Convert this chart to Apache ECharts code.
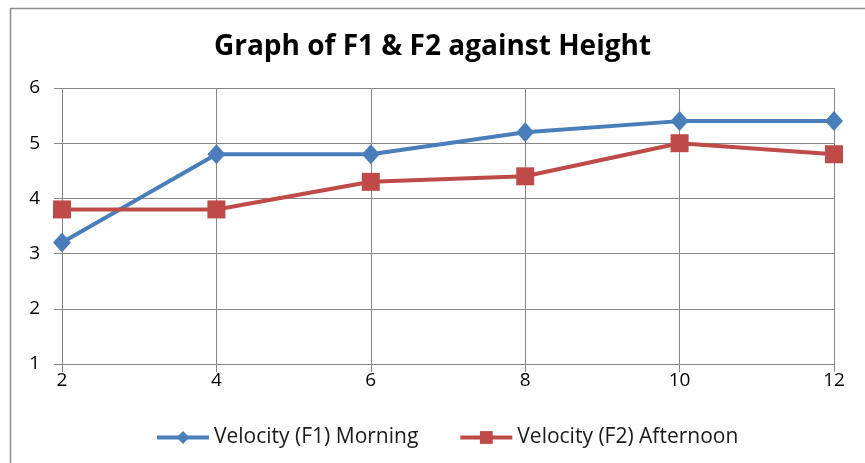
<!DOCTYPE html>
<html><head><meta charset="utf-8">
<script src="https://cdn.jsdelivr.net/npm/echarts@6/dist/echarts.min.js"></script>
<style>html,body{margin:0;padding:0;background:#fff}#c{width:865px;height:463px}</style>
</head><body><div id="c"></div>
<script>
const categories = ['2','4','6','8','10','12'];
const f1Morning = [3.2, 4.8, 4.8, 5.2, 5.4, 5.4];
const f2Afternoon = [3.8, 3.8, 4.3, 4.4, 5.0, 4.8];
const yTicks = [1, 6, 1]; // min, max, interval

const chart = echarts.init(document.getElementById('c'));
const font = '"Open Sans", "Liberation Sans", sans-serif';
chart.setOption({
  animation: false,
  backgroundColor: '#fff',
  graphic: [{type:'rect', shape:{x:10.5, y:8.5, width:860, height:470}, style:{fill:'none', stroke:'#8c8c8c', lineWidth:1.5}, silent:true}],
  title: {text:'Graph of F1 & F2 against Height', left:'center', top:28,
    textStyle:{fontFamily:font, fontSize:28, fontWeight:'bold', color:'#000'}},
  legend: {top:422, left:150, itemWidth:52, itemHeight:16, itemGap:40,
    lineStyle:{width:4},
    textStyle:{fontFamily:font, fontSize:21, color:'#1a1a1a'},
    data:['Velocity (F1) Morning','Velocity (F2) Afternoon']},
  grid: {left:62, right:31, top:88, bottom:99},
  xAxis: {type:'category', data:categories, boundaryGap:false,
    axisLine:{lineStyle:{color:'#868686'}},
    axisTick:{show:true, alignWithLabel:true, length:8, lineStyle:{color:'#868686'}},
    splitLine:{show:true, lineStyle:{color:'#868686'}},
    axisLabel:{fontFamily:font, fontSize:19, color:'#000', margin:7}},
  yAxis: {type:'value', min:yTicks[0], max:yTicks[1], interval:yTicks[2],
    axisLine:{show:false},
    axisTick:{show:true, length:8, lineStyle:{color:'#868686'}},
    splitLine:{show:true, lineStyle:{color:'#868686'}},
    axisLabel:{fontFamily:font, fontSize:19, color:'#000', margin:22}},
  series: [
    {name:'Velocity (F1) Morning', type:'line', data:f1Morning, symbol:'diamond', symbolSize:[18,20],
      lineStyle:{width:4, color:'#4a7ebb'}, itemStyle:{color:'#4a7ebb'}},
    {name:'Velocity (F2) Afternoon', type:'line', data:f2Afternoon, symbol:'rect', symbolSize:18,
      lineStyle:{width:4, color:'#be4b48'}, itemStyle:{color:'#be4b48'}}
  ]
});
</script></body></html>
